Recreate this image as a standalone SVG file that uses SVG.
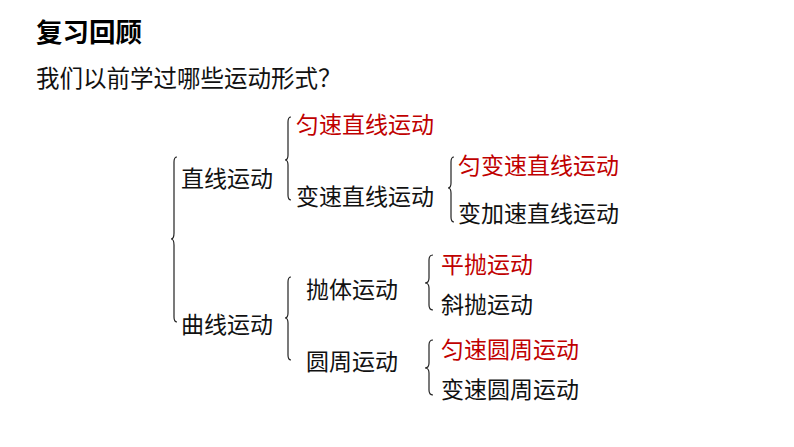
<svg xmlns="http://www.w3.org/2000/svg" width="794" height="447" viewBox="0 0 794 447">
<style>
text{font-family:"Noto Sans CJK SC","Noto Sans",sans-serif;font-size:23px;fill:#111}
.title{font-size:26.5px;font-weight:bold;fill:#000}
.q{font-size:23.5px}
.red{fill:#C00000}
.brace{fill:none;stroke:#222;stroke-width:1.2}
</style>
<rect width="794" height="447" fill="#fff"/>
<text class="title" x="36" y="42">复习回顾</text>
<text class="q" x="36" y="87">我们以前学过哪些运动形式？</text>
<g id="connectors">
<path class="brace" d="M177,157 Q174,157 174,162 L174,233 Q174,239 171,239 Q174,239 174,245 L174,317 Q174,322 177,322"/>
<path class="brace" d="M291,117 Q288,117 288,122 L288,155 Q288,160 285,160 Q288,160 288,165 L288,195 Q288,200 291,200"/>
<path class="brace" d="M454,157 Q451,157 451,162 L451,183 Q451,188 448,188 Q451,188 451,193 L451,217 Q451,222 454,222"/>
<path class="brace" d="M291,277 Q288,277 288,282 L288,313 Q288,318 285,318 Q288,318 288,323 L288,355 Q288,360 291,360"/>
<path class="brace" d="M433,255 Q429,255 429,260 L429,278 Q429,283 425,283 Q429,283 429,288 L429,305 Q429,310 433,310"/>
<path class="brace" d="M433,340 Q429,340 429,345 L429,363 Q429,368 425,368 Q429,368 429,373 L429,390 Q429,395 433,395"/>
</g>
<g id="n-zhixian"><text x="181" y="187">直线运动</text></g>
<g id="n-quxian"><text x="181" y="333">曲线运动</text></g>
<g id="n-yunsuzhixian"><text class="red" x="296" y="133">匀速直线运动</text></g>
<g id="n-biansuzhixian"><text x="296" y="205">变速直线运动</text></g>
<g id="n-yunbiansu"><text class="red" x="458" y="174">匀变速直线运动</text></g>
<g id="n-bianjiasu"><text x="458" y="222">变加速直线运动</text></g>
<g id="n-paoti"><text x="306" y="298">抛体运动</text></g>
<g id="n-yuanzhou"><text x="306" y="370">圆周运动</text></g>
<g id="n-pingpao"><text class="red" x="441" y="273">平抛运动</text></g>
<g id="n-xiepao"><text x="441" y="313">斜抛运动</text></g>
<g id="n-yunsuyuanzhou"><text class="red" x="441" y="358">匀速圆周运动</text></g>
<g id="n-biansuyuanzhou"><text x="441" y="398">变速圆周运动</text></g>
</svg>
